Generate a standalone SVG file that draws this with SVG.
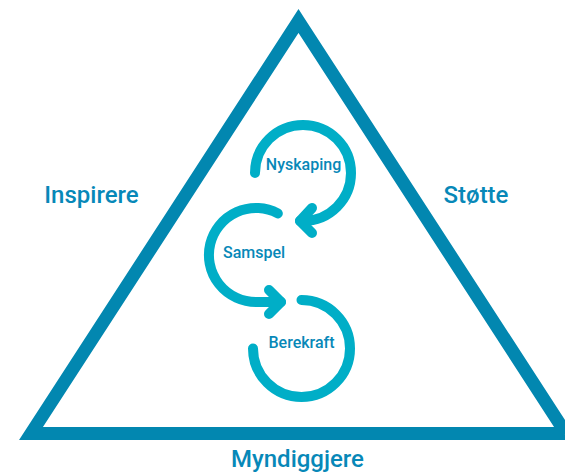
<svg xmlns="http://www.w3.org/2000/svg" width="565" height="474" viewBox="0 0 565 474">
<style>
.tri{fill:none;stroke:#0287B0;stroke-width:13;stroke-linejoin:miter;stroke-miterlimit:10}
.arc{fill:none;stroke:#00AEC7;stroke-width:10;stroke-linecap:round;stroke-linejoin:round}
.big{font-family:Roboto,"Liberation Sans",sans-serif;font-weight:500;font-size:24px;fill:#0788B8;text-anchor:middle}
.small{font-family:Roboto,"Liberation Sans",sans-serif;font-weight:500;font-size:16px;fill:#0788B8;text-anchor:middle}
</style>
<rect width="565" height="474" fill="#ffffff"/>
<g id="triangle">
<path class="tri" d="M298.5 21 L566 433.5 L31 433.5 Z"/>
</g>
<g id="connectors">
<path class="arc" d="M255 173 A48 48 0 1 1 303 221 L300 221"/>
<path class="arc" d="M312 208 L300 221 L312 233"/>
<path class="arc" d="M277.8 213.4 A47 47 0 1 0 256 302 L281 302"/>
<path class="arc" d="M269 290 L281 302 L269 314"/>
<path class="arc" d="M301.5 300 A48.5 48.5 0 1 1 253 348.5"/>
</g>
<g id="node-nyskaping"><text class="small" x="303.5" y="170">Nyskaping</text></g>
<g id="node-samspel"><text class="small" x="254" y="258">Samspel</text></g>
<g id="node-berekraft"><text class="small" x="301.5" y="348">Berekraft</text></g>
<g id="label-inspirere"><text class="big" x="91.5" y="203">Inspirere</text></g>
<g id="label-stotte"><text class="big" x="476" y="203">Støtte</text></g>
<g id="label-myndiggjere"><text class="big" x="297.5" y="467">Myndiggjere</text></g>
</svg>
